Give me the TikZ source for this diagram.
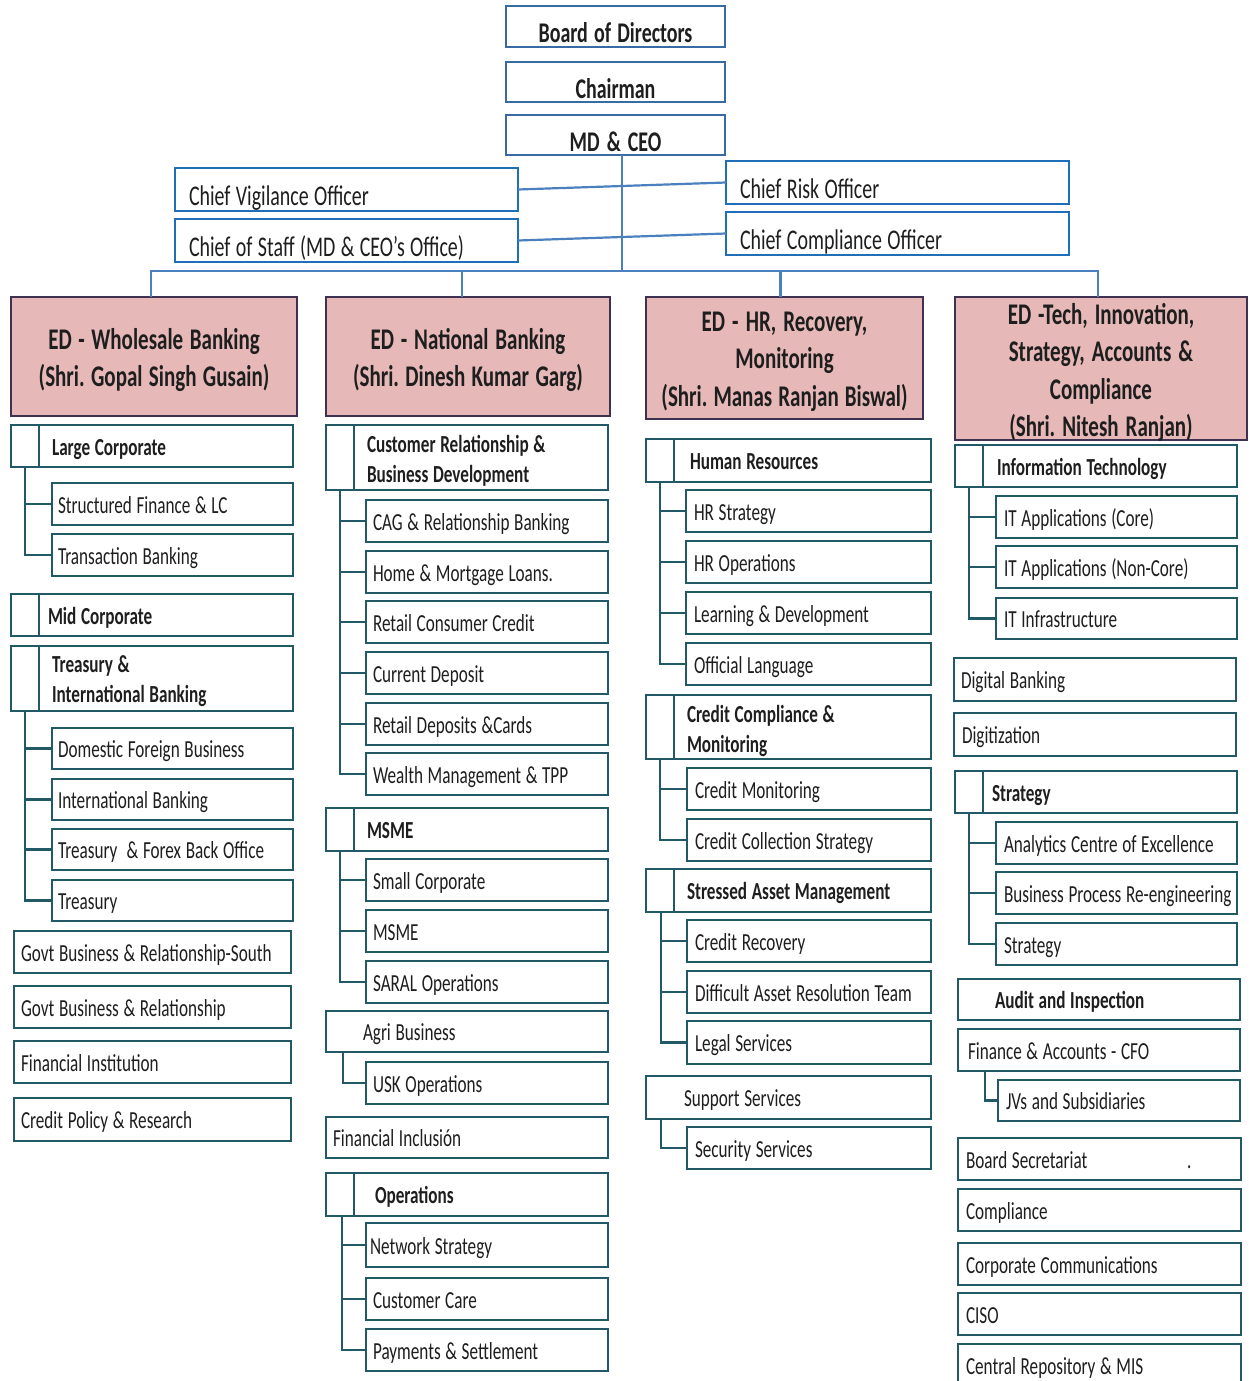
\documentclass[tikz,border=0pt]{standalone}
\usepackage{fontspec}
\setmainfont{Carlito}[FakeStretch=0.7]
\exhyphenpenalty=10000
\hyphenpenalty=10000
\frenchspacing
\definecolor{txt}{RGB}{30,30,30}
\definecolor{topblue}{HTML}{3A6AA3}
\definecolor{sideblue}{HTML}{1F6FB8}
\definecolor{lineblue}{HTML}{4A80C0}
\definecolor{edfill}{HTML}{E6B8B7}
\definecolor{edline}{HTML}{3F3151}
\definecolor{teal}{HTML}{215967}
\newcommand\tightsp{\spaceskip=0.19em plus 0.05em minus 0.03em\relax\xspaceskip=\spaceskip}
\tikzset{
  basebox/.style={rectangle, outer sep=0pt, inner sep=0pt, text=txt},
  leftal/.style={align=left, execute at begin node={\rightskip=0pt plus 1fil minus 300pt\relax}},
  tsp/.style={execute at begin node={\tightsp}},
  topbox/.style={basebox, draw=topblue, line width=2.6pt, fill=white, align=center, tsp, font=\fontsize{28.5}{30}\selectfont\bfseries},
  sidebox/.style={basebox, leftal, tsp, draw=sideblue, line width=2.6pt, fill=white, font=\fontsize{28.5}{30}\selectfont},
  edbox/.style={basebox, draw=edline, fill=edfill, line width=2.6pt, align=center, tsp, font=\fontsize{30}{37.5}\selectfont\bfseries},
  hbox/.style={basebox, leftal, tsp, draw=teal, line width=2.8pt, fill=white, font=\fontsize{24.5}{30.5}\selectfont\bfseries},
  sbox/.style={basebox, leftal, tsp, draw=teal, line width=2.8pt, fill=white, font=\fontsize{24.5}{30.5}\selectfont},
  tline/.style={draw=lineblue, line width=2.2pt},
  tree/.style={draw=teal, line width=2.8pt},
}
% name, x1, y1, x2, y2, style, left pad, first baseline offset from centre, text
\newcommand\bx[9]{%
  \pgfmathsetmacro\bxw{#4-#2}%
  \pgfmathsetmacro\bxh{#5-#3}%
  \pgfmathsetmacro\bxcx{(#2+#4)/2}%
  \pgfmathsetmacro\bxcy{(#3+#5)/2}%
  \pgfmathsetmacro\bxH{(#5-#3)/2+#8}%
  \pgfmathsetmacro\bxD{(#5-#3)/2-#8}%
  \def\bxp{\hspace*{#7pt}}%
  \node[#6, minimum width=\bxw pt, minimum height=\bxh pt, text width=\bxw pt,
        text height=\bxH pt, text depth=\bxD pt] (#1) at (\bxcx,\bxcy)
        {\bxp #9};%
}
\begin{document}
\begin{tikzpicture}[x=1pt,y=-1pt]
\fill[white] (0,0) rectangle (1248,1381);
\useasboundingbox (0,0) rectangle (1248,1381);

% top
\bx{bod}{506}{6}{725}{47}{topbox}{0}{16.5}{Board of Directors}
\bx{chair}{506}{62}{725}{102}{topbox}{0}{16.5}{Chairman}
\bx{md}{506}{115}{725}{155}{topbox}{0}{16.5}{MD \& CEO}
\bx{cvo}{175}{168}{518}{211}{sidebox}{14}{15.5}{Chief Vigilance Officer}
\bx{cos}{175}{219}{518}{262}{sidebox}{14}{15.5}{Chief of Staff (MD \& CEO’s Office)}
\bx{cro}{726}{161}{1069}{204}{sidebox}{14}{15.5}{Chief Risk Officer}
\bx{cco}{726}{212}{1069}{255}{sidebox}{14}{15.5}{Chief Compliance Officer}

% EDs
\bx{ed1}{11}{297}{297}{416}{edbox}{0}{-7.5}{ED - Wholesale Banking\\(Shri. Gopal Singh Gusain)}
\bx{ed2}{326}{297}{610}{416}{edbox}{0}{-7.5}{ED - National Banking\\(Shri. Dinesh Kumar Garg)}
\bx{ed3}{646}{297}{923}{419}{edbox}{0}{-27}{ED - HR, Recovery,\\Monitoring\\(Shri. Manas Ranjan Biswal)}
\bx{ed4}{955}{297}{1247}{440}{edbox}{0}{-44.5}{ED -Tech, Innovation,\\Strategy, Accounts \&\\Compliance\\(Shri. Nitesh Ranjan)}

% top connectors
\coordinate (bus) at (622,271);
\draw[tline] (md.south -| bus) -- (bus);
\draw[tline] (cvo.east) -- (cro.west);
\draw[tline] (cos.east) -- (cco.west);
\draw[tline] ([xshift=-3pt]ed1.north) |- (bus) -| ([xshift=-3pt]ed4.north);
\draw[tline] ([xshift=-6pt]ed2.north) -- ([xshift=-6pt]ed2.north |- bus);
\draw[tline] ([xshift=-4pt]ed3.north) -- ([xshift=-4pt]ed3.north |- bus);

% column 1
\bx{lc}{11}{425}{293}{467}{hbox}{41}{9}{Large Corporate}
\bx{sf}{52}{483}{293}{525}{sbox}{6}{9}{Structured Finance \& LC}
\bx{tb}{52}{534}{293}{576}{sbox}{6}{9}{Transaction Banking}
\bx{mc}{11}{594}{293}{636}{hbox}{37}{9}{Mid Corporate}
\bx{tib}{11}{646}{293}{711}{hbox}{41}{-6.5}{Treasury \&\\\bxp International Banking}
\bx{dfb}{52}{728}{293}{769}{sbox}{6}{9}{Domestic Foreign Business}
\bx{ib}{52}{779}{293}{820}{sbox}{6}{9}{International Banking}
\bx{tfb}{52}{829}{293}{870}{sbox}{6}{9}{Treasury\ \ \& Forex Back Office}
\bx{tr}{52}{880}{293}{921}{sbox}{6}{9}{Treasury}
\bx{gbs}{14}{931}{291}{973}{sbox}{7}{9}{Govt Business \& Relationship-South}
\bx{gbr}{14}{986}{291}{1028}{sbox}{7}{9}{Govt Business \& Relationship}
\bx{fi}{14}{1041}{291}{1083}{sbox}{7}{9}{Financial Institution}
\bx{cpr}{14}{1098}{291}{1141}{sbox}{7}{9}{Credit Policy \& Research}

% column 2
\bx{crbd}{326}{425}{608}{490}{hbox}{41}{-5.5}{Customer Relationship \&\\\bxp Business Development}
\bx{cag}{366}{500}{608}{542}{sbox}{7}{9}{CAG \& Relationship Banking}
\bx{hml}{366}{551}{608}{593}{sbox}{7}{9}{Home \& Mortgage Loans.}
\bx{rcc}{366}{601}{608}{643}{sbox}{7}{9}{Retail Consumer Credit}
\bx{cd}{366}{652}{608}{694}{sbox}{7}{9}{Current Deposit}
\bx{rdc}{366}{703}{608}{745}{sbox}{7}{9}{Retail Deposits \&Cards}
\bx{wm}{366}{753}{608}{795}{sbox}{7}{9}{Wealth Management \& TPP}
\bx{msmeh}{326}{808}{608}{851}{hbox}{41}{9}{MSME}
\bx{sc}{366}{859}{608}{901}{sbox}{7}{9}{Small Corporate}
\bx{msme}{366}{910}{608}{952}{sbox}{7}{9}{MSME}
\bx{saral}{366}{961}{608}{1003}{sbox}{7}{9}{SARAL Operations}
\bx{agri}{326}{1011}{608}{1052}{sbox}{37}{9}{Agri Business}
\bx{usk}{366}{1062}{608}{1104}{sbox}{7}{9}{USK Operations}
\bx{finc}{326}{1117}{608}{1158}{sbox}{7}{9}{Financial Inclusión}
\bx{ops}{326}{1173}{608}{1216}{hbox}{49}{9}{Operations}
\bx{ns}{366}{1223}{608}{1267}{sbox}{4}{9}{Network Strategy}
\bx{cc}{366}{1278}{608}{1320}{sbox}{7}{9}{Customer Care}
\bx{ps}{366}{1329}{608}{1371}{sbox}{7}{9}{Payments \& Settlement}

% column 3
\bx{hr}{646}{439}{931}{482}{hbox}{44}{9}{Human Resources}
\bx{hrs}{686}{490}{931}{532}{sbox}{8}{9}{HR Strategy}
\bx{hro}{686}{541}{931}{583}{sbox}{8}{9}{HR Operations}
\bx{ld}{686}{592}{931}{634}{sbox}{8}{9}{Learning \& Development}
\bx{ol}{686}{643}{931}{685}{sbox}{8}{9}{Official Language}
\bx{ccm}{646}{695}{931}{759}{hbox}{41}{-5}{Credit Compliance \&\\\bxp Monitoring}
\bx{cm}{687}{768}{931}{810}{sbox}{8}{9}{Credit Monitoring}
\bx{ccs}{687}{819}{931}{861}{sbox}{8}{9}{Credit Collection Strategy}
\bx{sam}{646}{869}{931}{912}{hbox}{41}{9}{Stressed Asset Management}
\bx{cr}{687}{920}{931}{962}{sbox}{8}{9}{Credit Recovery}
\bx{dart}{687}{971}{931}{1013}{sbox}{8}{9}{Difficult Asset Resolution Team}
\bx{ls}{687}{1021}{931}{1064}{sbox}{8}{9}{Legal Services}
\bx{ss}{646}{1076}{931}{1119}{sbox}{38}{9}{Support Services}
\bx{sec}{687}{1127}{931}{1169}{sbox}{8}{9}{Security Services}

% column 4
\bx{it}{955}{445}{1237}{487}{hbox}{42}{9}{Information Technology}
\bx{itc}{996}{496}{1237}{538}{sbox}{8}{9}{IT Applications (Core)}
\bx{itn}{996}{546}{1237}{588}{sbox}{8}{9}{IT Applications (Non-Core)}
\bx{iti}{996}{598}{1237}{639}{sbox}{8}{9}{IT Infrastructure}
\bx{db}{954}{658}{1236}{701}{sbox}{7}{9}{Digital Banking}
\bx{dig}{954}{713}{1236}{756}{sbox}{8}{9}{Digitization}
\bx{strh}{955}{771}{1237}{813}{hbox}{37}{9}{Strategy}
\bx{ace}{996}{822}{1237}{864}{sbox}{8}{9}{Analytics Centre of Excellence}
\bx{bpr}{996}{872}{1237}{914}{sbox}{8}{9}{Business Process Re-engineering}
\bx{str}{996}{923}{1237}{965}{sbox}{8}{9}{Strategy}
\bx{ai}{958}{979}{1240}{1020}{hbox}{37}{9}{Audit and Inspection}
\bx{fa}{958}{1029}{1240}{1071}{sbox}{10}{9}{Finance \& Accounts - CFO}
\bx{jv}{998}{1080}{1240}{1121}{sbox}{8}{9}{JVs and Subsidiaries}
\bx{bs}{958}{1138}{1241}{1180}{sbox}{8}{9}{\rlap{\hspace*{221pt}.}Board Secretariat}
\bx{comp}{958}{1189}{1241}{1231}{sbox}{8}{9}{Compliance}
\bx{corp}{958}{1243}{1241}{1285}{sbox}{8}{9}{Corporate Communications}
\bx{ciso}{958}{1293}{1241}{1335}{sbox}{8}{9}{CISO}
\bx{crm}{958}{1344}{1241}{1386}{sbox}{8}{9}{Central Repository \& MIS}

% dividers in header boxes
\foreach \h in {lc,mc,tib,crbd,msmeh,ops,hr,ccm,sam,it,strh}
  \draw[tree] ([xshift=28pt]\h.north west) -- ([xshift=28pt]\h.south west);

% trees
\foreach \c in {sf,tb} \draw[tree] ([xshift=14pt]lc.south west) |- (\c.west);
\foreach \c in {dfb,ib,tfb,tr} \draw[tree] ([xshift=14pt]tib.south west) |- (\c.west);
\foreach \c in {cag,hml,rcc,cd,rdc,wm} \draw[tree] ([xshift=14pt]crbd.south west) |- (\c.west);
\foreach \c in {sc,msme,saral} \draw[tree] ([xshift=14pt]msmeh.south west) |- (\c.west);
\draw[tree] ([xshift=17pt]agri.south west) |- (usk.west);
\foreach \c in {ns,cc,ps} \draw[tree] ([xshift=16pt]ops.south west) |- (\c.west);
\foreach \c in {hrs,hro,ld,ol} \draw[tree] ([xshift=14pt]hr.south west) |- (\c.west);
\foreach \c in {cm,ccs} \draw[tree] ([xshift=14pt]ccm.south west) |- (\c.west);
\foreach \c in {cr,dart,ls} \draw[tree] ([xshift=15pt]sam.south west) |- (\c.west);
\draw[tree] ([xshift=15pt]ss.south west) |- (sec.west);
\foreach \c in {itc,itn,iti} \draw[tree] ([xshift=14pt]it.south west) |- (\c.west);
\foreach \c in {ace,bpr,str} \draw[tree] ([xshift=14pt]strh.south west) |- (\c.west);
\draw[tree] ([xshift=27pt]fa.south west) |- (jv.west);
\end{tikzpicture}
\end{document}
